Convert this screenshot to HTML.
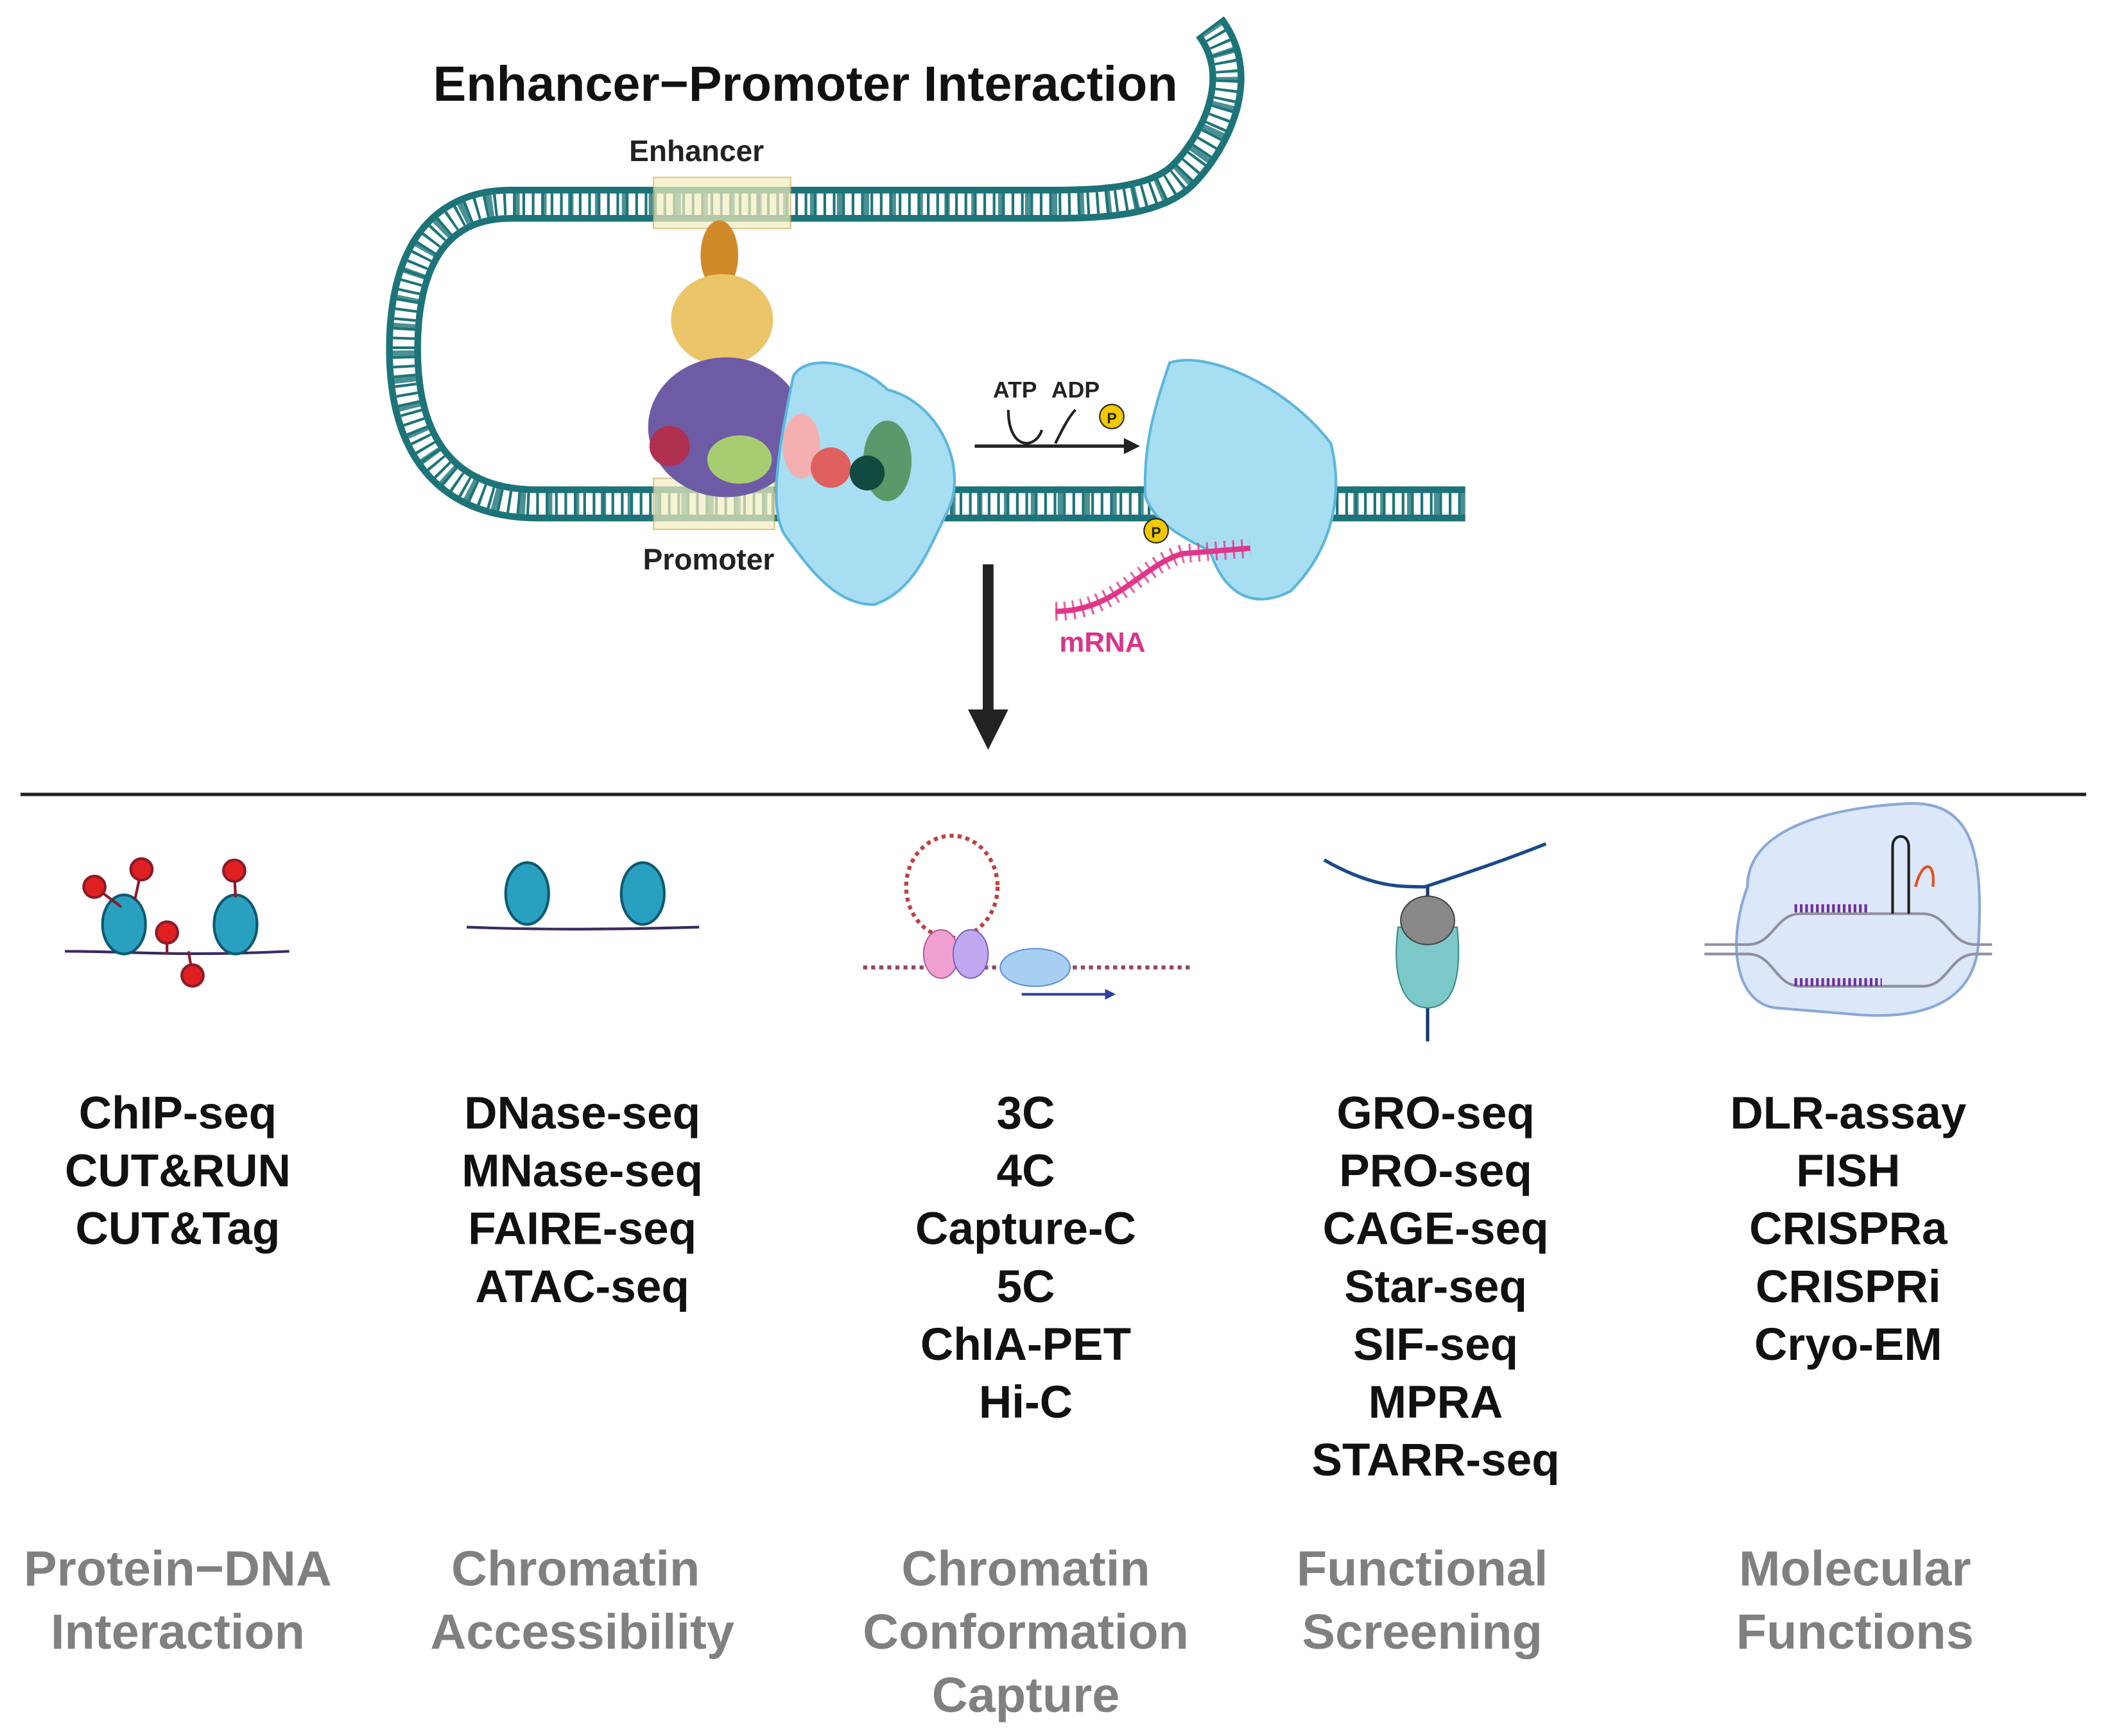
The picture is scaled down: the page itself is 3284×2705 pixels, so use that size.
<!DOCTYPE html>
<html><head><meta charset="utf-8"><style>
html,body{margin:0;padding:0;background:#fff;}
svg{display:block;}
text{font-family:"Liberation Sans",sans-serif;font-weight:bold;}
</style></head><body>
<svg width="3284" height="2705" viewBox="0 0 1568 1292" xmlns="http://www.w3.org/2000/svg">
<rect width="1568" height="1292" fill="#fff"/>
<!-- DNA backbone -->
<g fill="none">
<path d="M900,20 C930,60 900,110 880,130 C860,150 820,152 780,152 L380,152 C320,152 300,200 300,260 C300,330 330,375 400,375 L1090,375" stroke="#1d7478" stroke-width="26"/>
<path d="M900,20 C930,60 900,110 880,130 C860,150 820,152 780,152 L380,152 C320,152 300,200 300,260 C300,330 330,375 400,375 L1090,375" stroke="#fff" stroke-width="16"/>
<path d="M900,20 C930,60 900,110 880,130 C860,150 820,152 780,152 L380,152 C320,152 300,200 300,260 C300,330 330,375 400,375 L1090,375" stroke="#1d7478" stroke-width="16" stroke-dasharray="2 5"/>
<path d="M900,20 C930,60 900,110 880,130 C860,150 820,152 780,152 L380,152 C320,152 300,200 300,260 C300,330 330,375 400,375 L1090,375" stroke="#1d7478" stroke-width="26" stroke-dasharray="4 16" opacity="0.8"/>
</g>
<rect x="486" y="132" width="102" height="38" fill="#f4eec0" opacity="0.7" stroke="#c8b060"/>
<rect x="486" y="356" width="90" height="38" fill="#f4eec0" opacity="0.7" stroke="#c8b060"/>
<text x="518" y="120" font-size="22" text-anchor="middle" fill="#222">Enhancer</text>
<text x="527" y="424" font-size="22" text-anchor="middle" fill="#222">Promoter</text>
<text x="599" y="75" font-size="37" text-anchor="middle" fill="#111">Enhancer−Promoter Interaction</text>
<!-- proteins -->
<ellipse cx="535" cy="190" rx="14" ry="26" fill="#d08a2a"/>
<ellipse cx="537" cy="238" rx="38" ry="34" fill="#ecc46a"/>
<ellipse cx="540" cy="318" rx="58" ry="52" fill="#6e5ba6"/>
<circle cx="498" cy="332" r="15" fill="#b03050"/>
<path d="M590,280 C600,262 640,270 660,290 C700,300 720,350 705,380 C690,410 680,440 650,450 C620,450 600,420 585,400 C570,380 580,330 590,280 Z" fill="#a8def2" stroke="#5cb6dc" stroke-width="2"/>
<ellipse cx="596" cy="332" rx="14" ry="24" fill="#f4b0b0"/>
<ellipse cx="550" cy="342" rx="24" ry="18" fill="#a8cc70"/>
<circle cx="618" cy="348" r="15" fill="#e06060"/>
<ellipse cx="660" cy="343" rx="18" ry="30" fill="#5a9a6a"/>
<circle cx="645" cy="352" r="13" fill="#104a40"/>
<!-- second polymerase -->
<path d="M870,270 C900,260 960,290 990,330 C1000,370 990,410 960,440 C930,455 910,440 900,410 C880,400 860,390 852,370 C850,330 860,300 870,270 Z" fill="#a8def2" stroke="#5cb6dc" stroke-width="2"/>
<path d="M750,305 C750,335 770,335 775,320" stroke="#222" stroke-width="2" fill="none"/>
<path d="M725,332 L840,332" stroke="#222" stroke-width="2.5"/>
<polygon points="848,332 836,326 836,338" fill="#222"/>
<path d="M785,330 C790,320 795,310 800,305" stroke="#222" stroke-width="2" fill="none"/>
<text x="755" y="296" font-size="17" text-anchor="middle" fill="#222">ATP</text>
<text x="800" y="296" font-size="17" text-anchor="middle" fill="#222">ADP</text>
<circle cx="827" cy="310" r="9" fill="#f2c800" stroke="#222"/>
<text x="827" y="315" font-size="11" text-anchor="middle" fill="#222">P</text>
<circle cx="860" cy="395" r="9" fill="#f2c800" stroke="#222"/>
<text x="860" y="400" font-size="11" text-anchor="middle" fill="#222">P</text>
<path d="M785,455 C830,455 850,420 880,412 L930,408" stroke="#e0368a" stroke-width="4" fill="none"/>
<path d="M785,455 C830,455 850,420 880,412 L930,408" stroke="#e0368a" stroke-width="14" fill="none" stroke-dasharray="1.5 5" opacity="0.8"/>
<text x="820" y="485" font-size="21" text-anchor="middle" fill="#d8358a">mRNA</text>
<!-- down arrow -->
<rect x="731" y="420" width="8" height="110" fill="#222"/>
<polygon points="720,528 750,528 735,558" fill="#222"/>
<rect x="15" y="590" width="1537" height="2.5" fill="#222"/>
<!-- icon 1 -->
<path d="M48,708 C100,708 130,712 215,708" stroke="#3a2a60" stroke-width="2" fill="none"/>
<g fill="#2aa0c0" stroke="#0d5a70" stroke-width="2">
<ellipse cx="92" cy="688" rx="16" ry="22"/><ellipse cx="175" cy="688" rx="16" ry="22"/>
</g>
<g stroke="#8b1a2a" stroke-width="2" fill="#e02020">
<line x1="70" y1="660" x2="90" y2="675"/><circle cx="70" cy="660" r="8"/>
<line x1="105" y1="647" x2="100" y2="670"/><circle cx="105" cy="647" r="8"/>
<line x1="124" y1="694" x2="124" y2="710"/><circle cx="124" cy="694" r="8"/>
<line x1="143" y1="726" x2="140" y2="708"/><circle cx="143" cy="726" r="8"/>
<line x1="174" y1="648" x2="175" y2="668"/><circle cx="174" cy="648" r="8"/>
</g>
<!-- icon 2 -->
<path d="M347,690 C400,692 450,692 520,690" stroke="#3a2a60" stroke-width="2" fill="none"/>
<g fill="#2aa0c0" stroke="#0d5a70" stroke-width="2">
<ellipse cx="392" cy="665" rx="16" ry="23"/><ellipse cx="478" cy="665" rx="16" ry="23"/>
</g>
<!-- icon 3 -->
<ellipse cx="708" cy="660" rx="34" ry="38" fill="none" stroke="#c04040" stroke-width="3" stroke-dasharray="3 3"/>
<line x1="642" y1="720" x2="886" y2="720" stroke="#c04040" stroke-width="3" stroke-dasharray="3 3"/>
<line x1="642" y1="720" x2="886" y2="720" stroke="#3060c0" stroke-width="1.5" stroke-dasharray="2 4"/>
<ellipse cx="700" cy="710" rx="13" ry="18" fill="#f0a0d0" stroke="#b060a0"/>
<ellipse cx="722" cy="710" rx="13" ry="18" fill="#c0a8f0" stroke="#8060c0"/>
<ellipse cx="770" cy="720" rx="26" ry="14" fill="#a8cff2" stroke="#5c90dc"/>
<line x1="760" y1="740" x2="825" y2="740" stroke="#3040a0" stroke-width="2"/>
<polygon points="830,740 822,736 822,744" fill="#3040a0"/>
<!-- icon 4 -->
<path d="M985,640 C1020,660 1040,660 1060,660 C1090,650 1120,640 1150,628" stroke="#1a4a8a" stroke-width="2.5" fill="none"/>
<path d="M1062,660 L1062,775" stroke="#1a3a6a" stroke-width="2.5"/>
<path d="M1040,690 C1035,730 1045,750 1062,750 C1080,750 1088,730 1084,690 Z" fill="#7cc8c8" stroke="#3a8a8a"/>
<ellipse cx="1062" cy="685" rx="20" ry="18" fill="#888" stroke="#444"/>
<!-- icon 5 -->
<path d="M1300,660 C1300,610 1380,600 1420,598 C1470,596 1475,640 1472,700 C1470,740 1440,760 1380,755 L1320,750 C1290,745 1285,700 1300,660 Z" fill="#dce8fa" stroke="#8aa8d8" stroke-width="2"/>
<path d="M1268,703 L1300,703 C1320,703 1320,680 1340,680 L1430,680 C1450,680 1450,703 1470,703 L1482,703" stroke="#9090a0" stroke-width="2" fill="none"/>
<path d="M1268,710 L1300,710 C1320,710 1320,734 1340,734 L1430,734 C1450,734 1450,710 1470,710 L1482,710" stroke="#9090a0" stroke-width="2" fill="none"/>
<line x1="1335" y1="676" x2="1390" y2="676" stroke="#7030a0" stroke-width="6" stroke-dasharray="2 2"/>
<line x1="1335" y1="731" x2="1400" y2="731" stroke="#7030a0" stroke-width="6" stroke-dasharray="2 2"/>
<path d="M1408,680 L1408,630 C1408,620 1420,620 1420,630 L1420,680" stroke="#222" stroke-width="2" fill="none"/>
<path d="M1425,660 C1430,640 1440,640 1438,660" stroke="#e05020" stroke-width="2" fill="none"/>
<!-- method lists -->
<g font-size="34" text-anchor="middle" fill="#111">
<text x="132" y="840">ChIP-seq</text><text x="132" y="883">CUT&amp;RUN</text><text x="132" y="926">CUT&amp;Tag</text>
<text x="433" y="840">DNase-seq</text><text x="433" y="883">MNase-seq</text><text x="433" y="926">FAIRE-seq</text><text x="433" y="969">ATAC-seq</text>
<text x="763" y="840">3C</text><text x="763" y="883">4C</text><text x="763" y="926">Capture-C</text><text x="763" y="969">5C</text><text x="763" y="1012">ChIA-PET</text><text x="763" y="1055">Hi-C</text>
<text x="1068" y="840">GRO-seq</text><text x="1068" y="883">PRO-seq</text><text x="1068" y="926">CAGE-seq</text><text x="1068" y="969">Star-seq</text><text x="1068" y="1012">SIF-seq</text><text x="1068" y="1055">MPRA</text><text x="1068" y="1098">STARR-seq</text>
<text x="1375" y="840">DLR-assay</text><text x="1375" y="883">FISH</text><text x="1375" y="926">CRISPRa</text><text x="1375" y="969">CRISPRi</text><text x="1375" y="1012">Cryo-EM</text>
</g>
<g font-size="37" text-anchor="middle" fill="#808080">
<text x="132" y="1180">Protein−DNA</text><text x="132" y="1227">Interaction</text>
<text x="428" y="1180">Chromatin</text><text x="433" y="1227">Accessibility</text>
<text x="763" y="1180">Chromatin</text><text x="763" y="1227">Conformation</text><text x="763" y="1274">Capture</text>
<text x="1058" y="1180">Functional</text><text x="1058" y="1227">Screening</text>
<text x="1380" y="1180">Molecular</text><text x="1380" y="1227">Functions</text>
</g>
</svg>
</body></html>
